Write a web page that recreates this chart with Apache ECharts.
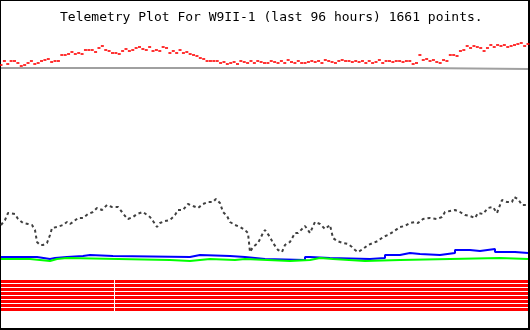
<!DOCTYPE html>
<html>
<head>
<meta charset="utf-8">
<script src="https://cdn.jsdelivr.net/npm/echarts@6/dist/echarts.min.js"></script>
<style>html,body{margin:0;padding:0;background:#fff;}#c{width:530px;height:330px;}</style>
</head>
<body>
<div id="c"></div>
<script>
// Title text
var titleText = 'Telemetry Plot For W9II-1 (last 96 hours) 1661 points.';
var spanHours = 96;

// Red channel (scatter), evenly sampled across the 96 hours, raw counts
var redValues = [
  263,267,264,267,267,265,262,263,265,267,264,265,267,268,269,266,267,267,273,273,
  274,276,274,275,274,278,278,278,276,280,282,278,277,275,275,274,277,279,277,278,
  280,281,279,278,281,277,278,277,281,280,275,277,275,278,275,276,274,273,272,270,
  269,267,267,267,267,265,266,264,265,266,264,267,266,265,267,265,267,266,265,
  265,267,266,265,267,265,268,266,265,267,265,265,266,267,266,267,265,268,267,266,
  265,267,268,267,267,266,267,266,267,265,267,265,266,268,265,267,267,266,267,267,
  266,267,267,264,265,273,268,269,267,268,266,265,268,267,273,273,272,277,278,282,
  280,282,281,280,277,280,283,281,283,282,283,281,282,283,284,285,282,284
];

// Gray channel: [hour, counts] change points
var grayHours  = [0, 76.3, 96];
var grayValues = [260, 259, 259];

// Dark channel: hours and counts
var darkHours = [
  0,0.73,1.28,1.64,2.55,3.10,4.01,4.92,5.65,6.19,6.56,7.10,7.65,8.38,8.93,9.29,10.20,11.29,12.02,12.57,
  13.12,14.03,14.94,15.85,16.76,17.49,18.40,19.31,20.22,21.31,22.04,22.59,23.13,24.05,24.77,25.87,26.60,27.14,27.69,28.42,
  28.96,29.87,30.79,31.70,32.24,33.15,34.06,34.97,35.89,36.80,37.71,38.62,39.16,39.89,40.44,41.17,41.71,42.63,43.54,44.45,
  44.99,45.36,45.90,46.82,47.73,48.09,49.00,49.55,50.46,51.19,51.73,52.64,53.56,54.10,55.38,56.29,57.20,58.11,59.02,59.93,
  60.48,61.21,62.30,63.21,63.94,64.49,65.03,65.94,66.85,67.76,68.67,69.59,70.50,71.41,72.68,73.59,74.50,75.41,75.96,76.87,
  78.15,79.42,80.33,80.88,81.79,82.70,83.61,84.52,85.43,86.34,86.89,87.80,88.71,89.62,90.35,91.26,92.17,93.08,93.45,94.18,
  94.91,95.82
];
var darkValues = [
  103,108,115,117,114,109,105,104,103,98,86,83,83,85,93,100,101,103,106,104,
  106,110,110,114,116,120,118,123,121,121,116,112,109,111,114,116,113,111,107,101,
  105,107,108,113,118,118,124,122,120,124,126,126,129,125,116,112,106,103,101,98,
  95,76,81,85,95,98,91,85,78,76,83,86,95,95,102,95,106,104,99,103,
  90,87,85,84,81,78,76,79,83,85,87,91,93,96,101,102,105,106,105,109,
  110,109,111,116,117,118,116,113,112,110,115,114,120,121,115,128,126,126,131,129,
  123,123
];

// Blue channel: change points
var blueHours  = [0,6.56,8.93,9.84,12.02,14.94,16.21,20.40,34.43,36.25,41.71,44.45,46.27,48.09,55.38,56.29,59.93,67.22,69.95,72.68,74.50,76.33,79.97,82.70,85.43,87.25,89.99,93.63,96];
var blueValues = [71,69,70,71,72,73,72,71,73,72,71,70,69,68,71,70,69,70,73,75,74,73,75,78,77,79,76,75,75];

// Green channel: change points
var greenHours  = [0,5.28,8.93,10.20,12.02,30.79,34.43,38.07,42.63,44.45,52.64,56.29,58.11,60.48,66.31,72.68,81.79,90.90,96];
var greenValues = [69,67,69,70,68,67,69,68,69,67,68,70,69,67,68,69,70,69,69];

// Status bit channels (8 stripes) and the data gap
var bitLevels = [46.5,42.5,38.5,34.5,30.5,26.5,22.5,18.5];
var gapStart = 20.58, gapEnd = 20.77;

function pairs(hs, vs){ return hs.map(function(h,i){ return [h, vs[i]]; }); }

var redData = redValues.map(function(v,i){ return [i*spanHours/(redValues.length-1), v]; });

var series = [];
bitLevels.forEach(function(lv){
  series.push({
    type:'line', data:[[0,lv],[gapStart,lv],[(gapStart+gapEnd)/2,'-'],[gapEnd,lv],[spanHours,lv]],
    symbol:'none', lineStyle:{color:'#ff0000', width:3, cap:'butt'}, connectNulls:false, silent:true
  });
});
series.push({type:'line', data:pairs(grayHours,grayValues), step:'end', symbol:'none', lineStyle:{color:'#a0a0a0', width:2}});
series.push({type:'line', data:pairs(darkHours,darkValues), symbol:'none', lineStyle:{color:'#404040', width:2, type:[3,3]}});
series.push({type:'line', data:pairs(blueHours,blueValues), step:'end', symbol:'none', lineStyle:{color:'#0000ff', width:2}});
series.push({type:'line', data:pairs(greenHours,greenValues), step:'end', symbol:'none', lineStyle:{color:'#00ff00', width:2}});
series.push({type:'scatter', data:redData, symbol:'rect', symbolSize:[3,2], itemStyle:{color:'#ff0000'}});

var chart = echarts.init(document.getElementById('c'), null, {renderer:'canvas'});
chart.setOption({
  animation:false,
  backgroundColor:'#ffffff',
  grid:{left:1, right:2, top:1, bottom:2, containLabel:false},
  xAxis:{type:'value', min:0, max:spanHours, show:false},
  yAxis:{type:'value', min:0, max:327, show:false},
  series: series,
  graphic:[
    {type:'text', left:60, top:11, style:{text:titleText, fill:'#000', font:'13px "DejaVu Sans Mono"'}},
    {type:'rect', shape:{x:0,y:0,width:530,height:1}, style:{fill:'#000'}},
    {type:'rect', shape:{x:0,y:0,width:1,height:330}, style:{fill:'#000'}},
    {type:'rect', shape:{x:528,y:0,width:2,height:330}, style:{fill:'#000'}},
    {type:'rect', shape:{x:0,y:328,width:530,height:2}, style:{fill:'#000'}}
  ]
});
</script>
</body>
</html>
